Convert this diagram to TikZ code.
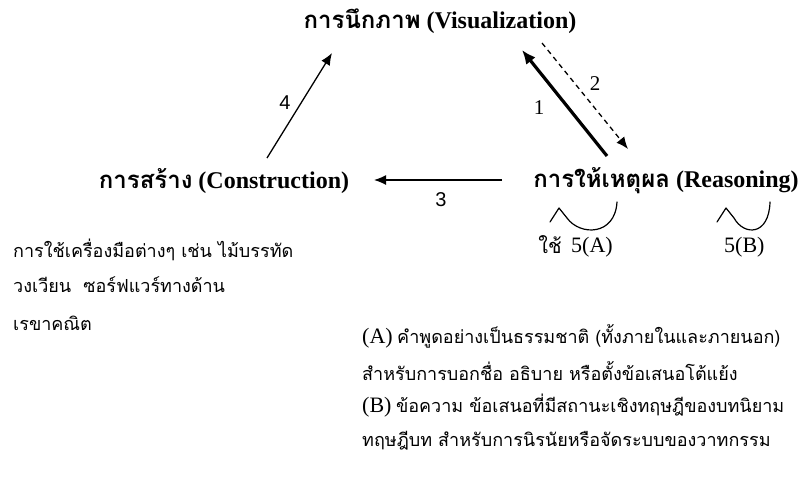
\documentclass[tikz,border=0pt]{standalone}
\usepackage{fontspec}
\setmainfont{Liberation Serif}
\newfontfamily\thai[Script=Thai]{Loma}
\newfontfamily\sansnum{Liberation Sans}
\usetikzlibrary{arrows.meta}
\begin{document}
\begin{tikzpicture}[x=1pt,y=-1pt,
  title/.style={font=\fontsize{24}{27}\selectfont\bfseries, inner sep=0pt},
  body/.style={font=\fontsize{18}{21}\selectfont, inner sep=0pt, anchor=west},
  lbl/.style={font=\fontsize{21}{23}\selectfont, inner sep=0pt},
  slbl/.style={font=\fontsize{20}{23}\sansnum, inner sep=0pt},
  arr/.style={-{Latex[length=12pt,width=10pt]}, line width=1.3pt},
  tharr/.style={-{Latex[length=14pt,width=12pt]}, line width=3.2pt},
  dasharr/.style={-{Latex[length=12pt,width=10pt]}, line width=1.3pt, dash pattern=on 5pt off 4pt},
  arcline/.style={line width=1.2pt, line cap=round, line join=round}]
\useasboundingbox (0,0) rectangle (800,477);
% main nodes
\node[title] (vis) at (440,21) {{\thai การนึกภาพ} (Visualization)};
\node[title] (con) at (224,181) {{\thai การสร้าง} (Construction)};
\node[title] (rea) at (666,181) {{\thai การให้เหตุผล} (Reasoning)};
% arrow endpoints
\coordinate (a4s) at (267,158);
\coordinate (a4e) at (332,53);
\coordinate (a1s) at (607,156);
\coordinate (a1e) at (522,50);
\coordinate (a2s) at (542,43);
\coordinate (a2e) at (628,149);
\coordinate (a3s) at (502,180);
\coordinate (a3e) at (374,180);
\draw[arr] (a4s) -- (a4e);
\draw[tharr] (a1s) -- (a1e);
\draw[dasharr] (a2s) -- (a2e);
\draw[arr] (a3s) -- (a3e);
\node[slbl] (n4) at (285,103) {4};
\node[lbl] (n1) at (539,108) {1};
\node[lbl] (n2) at (595,84) {2};
\node[slbl] (n3) at (441,200) {3};
% arcs under reasoning
\coordinate (c1a) at (550,222);
\coordinate (c1b) at (559,208);
\coordinate (c1c) at (567,218);
\coordinate (c1d) at (617,202);
\draw[arcline] (c1a) -- (c1b) -- (c1c);
\draw[arcline] (c1c) .. controls (580,236) and (615,236) .. (c1d);
\coordinate (c2a) at (717,222);
\coordinate (c2b) at (726,208);
\coordinate (c2c) at (734,218);
\coordinate (c2d) at (770,202);
\draw[arcline] (c2a) -- (c2b) -- (c2c);
\draw[arcline] (c2c) .. controls (744,236) and (769,236) .. (c2d);
\node[body, anchor=center] (use) at (550,245) {\thai\fontsize{20}{22}\selectfont ใช้};
\node[body, font=\fontsize{22}{24}\selectfont] (fa) at (571,247) {5(A)};
\node[body, font=\fontsize{22}{24}\selectfont] (fb) at (724,247) {5(B)};
% left text
\node[body] (l1) at (13,250) {\thai การใช้เครื่องมือต่างๆ เช่น ไม้บรรทัด};
\node[body] (l2) at (13,285) {\thai วงเวียน\ \ ซอร์ฟแวร์ทางด้าน};
\node[body] (l3) at (13,323) {\thai เรขาคณิต};
% right text
\node[body] (r1) at (362,336) {{\fontsize{22}{24}\selectfont (A)} {\thai คำพูดอย่างเป็นธรรมชาติ (ทั้งภายในและภายนอก)}};
\node[body] (r2) at (362,371) {\thai สำหรับการบอกชื่อ อธิบาย หรือตั้งข้อเสนอโต้แย้ง};
\node[body] (r3) at (362,406) {{\fontsize{22}{24}\selectfont (B)} {\thai ข้อความ ข้อเสนอที่มีสถานะเชิงทฤษฎีของบทนิยาม}};
\node[body] (r4) at (362,441) {\thai ทฤษฎีบท สำหรับการนิรนัยหรือจัดระบบของวาทกรรม};
\end{tikzpicture}
\end{document}
